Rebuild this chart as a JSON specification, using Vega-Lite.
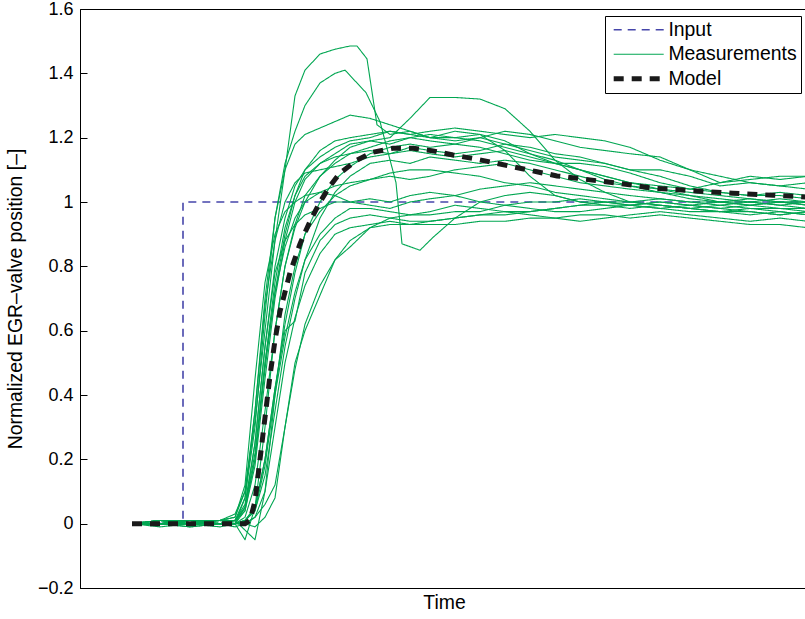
{
"$schema":"https://vega.github.io/schema/vega-lite/v6.json",
"autosize":"none",
"padding":{"left":80,"top":9,"right":0,"bottom":31},
"width":728,
"height":579,
"background":"white",
"config":{
 "view":{"stroke":"#000","strokeWidth":1},
 "axis":{"labelFont":"Liberation Sans","titleFont":"Liberation Sans","labelFontSize":18,"titleFontSize":19.4,"titleFontWeight":"normal","labelColor":"#000","titleColor":"#000","domainColor":"#000","tickColor":"#000","grid":false},
 "legend":{"title":null,"orient":"top-right","offset":7,"strokeColor":"#000","fillColor":"#fff","padding":4,"labelFont":"Liberation Sans","labelFontSize":19.4,"labelColor":"#000","symbolType":"M-1,0H9","symbolSize":100,"symbolFillColor":"transparent","labelOffset":40,"rowPadding":3.5}
},
"datasets":{
"input":[{"k":"Input","o":1,"t":52,"y":0},{"k":"Input","o":2,"t":103,"y":0},{"k":"Input","o":3,"t":103,"y":1},{"k":"Input","o":4,"t":728,"y":1}],
"model":[{"k":"Model","t":52,"y":0},{"k":"Model","t":80,"y":0},{"k":"Model","t":110,"y":0},{"k":"Model","t":140,"y":0},{"k":"Model","t":165,"y":0},{"k":"Model","t":170,"y":0.01},{"k":"Model","t":175,"y":0.07},{"k":"Model","t":180,"y":0.2},{"k":"Model","t":185,"y":0.33},{"k":"Model","t":190,"y":0.46},{"k":"Model","t":195,"y":0.57},{"k":"Model","t":200,"y":0.66},{"k":"Model","t":210,"y":0.78},{"k":"Model","t":220,"y":0.87},{"k":"Model","t":230,"y":0.94},{"k":"Model","t":240,"y":1.0},{"k":"Model","t":250,"y":1.05},{"k":"Model","t":260,"y":1.09},{"k":"Model","t":277,"y":1.13},{"k":"Model","t":293,"y":1.155},{"k":"Model","t":313,"y":1.167},{"k":"Model","t":333,"y":1.167},{"k":"Model","t":353,"y":1.159},{"k":"Model","t":373,"y":1.146},{"k":"Model","t":397,"y":1.133},{"k":"Model","t":420,"y":1.118},{"k":"Model","t":440,"y":1.105},{"k":"Model","t":457,"y":1.094},{"k":"Model","t":477,"y":1.081},{"k":"Model","t":497,"y":1.074},{"k":"Model","t":517,"y":1.066},{"k":"Model","t":537,"y":1.059},{"k":"Model","t":573,"y":1.043},{"k":"Model","t":613,"y":1.035},{"k":"Model","t":653,"y":1.027},{"k":"Model","t":693,"y":1.021},{"k":"Model","t":728,"y":1.015}],
"meas":[
{"k":"Measurements","s":1,"t":52,"y":0},{"k":"Measurements","s":1,"t":80,"y":0.01},{"k":"Measurements","s":1,"t":110,"y":0},{"k":"Measurements","s":1,"t":140,"y":0.01},{"k":"Measurements","s":1,"t":155,"y":0.02},{"k":"Measurements","s":1,"t":165,"y":0.1},{"k":"Measurements","s":1,"t":175,"y":0.32},{"k":"Measurements","s":1,"t":185,"y":0.6},{"k":"Measurements","s":1,"t":195,"y":0.88},{"k":"Measurements","s":1,"t":205,"y":1.1},{"k":"Measurements","s":1,"t":215,"y":1.33},{"k":"Measurements","s":1,"t":225,"y":1.41},{"k":"Measurements","s":1,"t":240,"y":1.46},{"k":"Measurements","s":1,"t":255,"y":1.475},{"k":"Measurements","s":1,"t":270,"y":1.485},{"k":"Measurements","s":1,"t":277,"y":1.485},{"k":"Measurements","s":1,"t":287,"y":1.445},{"k":"Measurements","s":1,"t":297,"y":1.24},{"k":"Measurements","s":1,"t":310,"y":1.21},{"k":"Measurements","s":1,"t":330,"y":1.22},{"k":"Measurements","s":1,"t":350,"y":1.2},{"k":"Measurements","s":1,"t":375,"y":1.22},{"k":"Measurements","s":1,"t":400,"y":1.21},{"k":"Measurements","s":1,"t":425,"y":1.19},{"k":"Measurements","s":1,"t":450,"y":1.15},{"k":"Measurements","s":1,"t":475,"y":1.12},{"k":"Measurements","s":1,"t":500,"y":1.1},{"k":"Measurements","s":1,"t":525,"y":1.08},{"k":"Measurements","s":1,"t":550,"y":1.06},{"k":"Measurements","s":1,"t":580,"y":1.04},{"k":"Measurements","s":1,"t":610,"y":1.02},{"k":"Measurements","s":1,"t":640,"y":1.0},{"k":"Measurements","s":1,"t":670,"y":0.99},{"k":"Measurements","s":1,"t":700,"y":1.0},{"k":"Measurements","s":1,"t":728,"y":0.99},
{"k":"Measurements","s":2,"t":52,"y":0},{"k":"Measurements","s":2,"t":80,"y":0},{"k":"Measurements","s":2,"t":110,"y":0.01},{"k":"Measurements","s":2,"t":140,"y":0},{"k":"Measurements","s":2,"t":155,"y":0.01},{"k":"Measurements","s":2,"t":165,"y":0.08},{"k":"Measurements","s":2,"t":175,"y":0.3},{"k":"Measurements","s":2,"t":185,"y":0.65},{"k":"Measurements","s":2,"t":195,"y":0.95},{"k":"Measurements","s":2,"t":205,"y":1.12},{"k":"Measurements","s":2,"t":215,"y":1.22},{"k":"Measurements","s":2,"t":225,"y":1.3},{"k":"Measurements","s":2,"t":240,"y":1.37},{"k":"Measurements","s":2,"t":255,"y":1.4},{"k":"Measurements","s":2,"t":265,"y":1.41},{"k":"Measurements","s":2,"t":286,"y":1.34},{"k":"Measurements","s":2,"t":300,"y":1.25},{"k":"Measurements","s":2,"t":316,"y":1.06},{"k":"Measurements","s":2,"t":322,"y":0.87},{"k":"Measurements","s":2,"t":340,"y":0.85},{"k":"Measurements","s":2,"t":353,"y":0.89},{"k":"Measurements","s":2,"t":375,"y":0.95},{"k":"Measurements","s":2,"t":400,"y":1.0},{"k":"Measurements","s":2,"t":425,"y":1.02},{"k":"Measurements","s":2,"t":450,"y":1.03},{"k":"Measurements","s":2,"t":475,"y":1.02},{"k":"Measurements","s":2,"t":500,"y":1.0},{"k":"Measurements","s":2,"t":525,"y":1.0},{"k":"Measurements","s":2,"t":550,"y":0.99},{"k":"Measurements","s":2,"t":580,"y":0.98},{"k":"Measurements","s":2,"t":610,"y":0.97},{"k":"Measurements","s":2,"t":640,"y":0.97},{"k":"Measurements","s":2,"t":670,"y":0.96},{"k":"Measurements","s":2,"t":700,"y":0.97},{"k":"Measurements","s":2,"t":728,"y":0.96},
{"k":"Measurements","s":3,"t":52,"y":0},{"k":"Measurements","s":3,"t":80,"y":0},{"k":"Measurements","s":3,"t":110,"y":0.01},{"k":"Measurements","s":3,"t":140,"y":0.01},{"k":"Measurements","s":3,"t":155,"y":0.03},{"k":"Measurements","s":3,"t":165,"y":0.1},{"k":"Measurements","s":3,"t":175,"y":0.35},{"k":"Measurements","s":3,"t":185,"y":0.7},{"k":"Measurements","s":3,"t":195,"y":0.95},{"k":"Measurements","s":3,"t":205,"y":1.1},{"k":"Measurements","s":3,"t":215,"y":1.18},{"k":"Measurements","s":3,"t":225,"y":1.21},{"k":"Measurements","s":3,"t":240,"y":1.23},{"k":"Measurements","s":3,"t":255,"y":1.25},{"k":"Measurements","s":3,"t":270,"y":1.27},{"k":"Measurements","s":3,"t":290,"y":1.26},{"k":"Measurements","s":3,"t":310,"y":1.24},{"k":"Measurements","s":3,"t":330,"y":1.22},{"k":"Measurements","s":3,"t":350,"y":1.2},{"k":"Measurements","s":3,"t":375,"y":1.19},{"k":"Measurements","s":3,"t":400,"y":1.2},{"k":"Measurements","s":3,"t":425,"y":1.18},{"k":"Measurements","s":3,"t":450,"y":1.16},{"k":"Measurements","s":3,"t":475,"y":1.14},{"k":"Measurements","s":3,"t":500,"y":1.13},{"k":"Measurements","s":3,"t":525,"y":1.12},{"k":"Measurements","s":3,"t":550,"y":1.1},{"k":"Measurements","s":3,"t":580,"y":1.08},{"k":"Measurements","s":3,"t":610,"y":1.05},{"k":"Measurements","s":3,"t":640,"y":1.03},{"k":"Measurements","s":3,"t":670,"y":1.02},{"k":"Measurements","s":3,"t":700,"y":1.02},{"k":"Measurements","s":3,"t":728,"y":1.01},
{"k":"Measurements","s":4,"t":52,"y":0},{"k":"Measurements","s":4,"t":80,"y":0.01},{"k":"Measurements","s":4,"t":110,"y":0},{"k":"Measurements","s":4,"t":140,"y":0},{"k":"Measurements","s":4,"t":155,"y":0},{"k":"Measurements","s":4,"t":165,"y":0.02},{"k":"Measurements","s":4,"t":175,"y":0.12},{"k":"Measurements","s":4,"t":185,"y":0.35},{"k":"Measurements","s":4,"t":195,"y":0.6},{"k":"Measurements","s":4,"t":205,"y":0.8},{"k":"Measurements","s":4,"t":215,"y":0.92},{"k":"Measurements","s":4,"t":225,"y":1.0},{"k":"Measurements","s":4,"t":240,"y":1.08},{"k":"Measurements","s":4,"t":255,"y":1.13},{"k":"Measurements","s":4,"t":270,"y":1.17},{"k":"Measurements","s":4,"t":290,"y":1.19},{"k":"Measurements","s":4,"t":310,"y":1.2},{"k":"Measurements","s":4,"t":330,"y":1.26},{"k":"Measurements","s":4,"t":350,"y":1.325},{"k":"Measurements","s":4,"t":375,"y":1.325},{"k":"Measurements","s":4,"t":400,"y":1.32},{"k":"Measurements","s":4,"t":425,"y":1.29},{"k":"Measurements","s":4,"t":450,"y":1.22},{"k":"Measurements","s":4,"t":475,"y":1.13},{"k":"Measurements","s":4,"t":500,"y":1.07},{"k":"Measurements","s":4,"t":525,"y":1.03},{"k":"Measurements","s":4,"t":550,"y":1.0},{"k":"Measurements","s":4,"t":580,"y":0.99},{"k":"Measurements","s":4,"t":610,"y":0.98},{"k":"Measurements","s":4,"t":640,"y":0.97},{"k":"Measurements","s":4,"t":670,"y":0.97},{"k":"Measurements","s":4,"t":700,"y":0.96},{"k":"Measurements","s":4,"t":728,"y":0.97},
{"k":"Measurements","s":5,"t":52,"y":0},{"k":"Measurements","s":5,"t":80,"y":0},{"k":"Measurements","s":5,"t":110,"y":-0.01},{"k":"Measurements","s":5,"t":140,"y":0},{"k":"Measurements","s":5,"t":155,"y":0},{"k":"Measurements","s":5,"t":165,"y":0},{"k":"Measurements","s":5,"t":175,"y":0.02},{"k":"Measurements","s":5,"t":185,"y":0.06},{"k":"Measurements","s":5,"t":195,"y":0.12},{"k":"Measurements","s":5,"t":205,"y":0.3},{"k":"Measurements","s":5,"t":215,"y":0.48},{"k":"Measurements","s":5,"t":225,"y":0.62},{"k":"Measurements","s":5,"t":240,"y":0.74},{"k":"Measurements","s":5,"t":255,"y":0.82},{"k":"Measurements","s":5,"t":270,"y":0.86},{"k":"Measurements","s":5,"t":290,"y":0.92},{"k":"Measurements","s":5,"t":310,"y":0.95},{"k":"Measurements","s":5,"t":330,"y":0.96},{"k":"Measurements","s":5,"t":350,"y":0.96},{"k":"Measurements","s":5,"t":375,"y":0.97},{"k":"Measurements","s":5,"t":400,"y":0.97},{"k":"Measurements","s":5,"t":425,"y":0.99},{"k":"Measurements","s":5,"t":450,"y":1.0},{"k":"Measurements","s":5,"t":475,"y":1.0},{"k":"Measurements","s":5,"t":500,"y":1.01},{"k":"Measurements","s":5,"t":525,"y":1.0},{"k":"Measurements","s":5,"t":550,"y":0.99},{"k":"Measurements","s":5,"t":580,"y":1.0},{"k":"Measurements","s":5,"t":610,"y":0.99},{"k":"Measurements","s":5,"t":640,"y":0.98},{"k":"Measurements","s":5,"t":670,"y":0.99},{"k":"Measurements","s":5,"t":700,"y":0.98},{"k":"Measurements","s":5,"t":728,"y":0.98},
{"k":"Measurements","s":6,"t":52,"y":0},{"k":"Measurements","s":6,"t":80,"y":0},{"k":"Measurements","s":6,"t":110,"y":0},{"k":"Measurements","s":6,"t":140,"y":-0.01},{"k":"Measurements","s":6,"t":155,"y":0},{"k":"Measurements","s":6,"t":165,"y":0},{"k":"Measurements","s":6,"t":175,"y":-0.01},{"k":"Measurements","s":6,"t":185,"y":0.02},{"k":"Measurements","s":6,"t":195,"y":0.08},{"k":"Measurements","s":6,"t":205,"y":0.3},{"k":"Measurements","s":6,"t":215,"y":0.5},{"k":"Measurements","s":6,"t":225,"y":0.6},{"k":"Measurements","s":6,"t":240,"y":0.71},{"k":"Measurements","s":6,"t":255,"y":0.82},{"k":"Measurements","s":6,"t":270,"y":0.88},{"k":"Measurements","s":6,"t":290,"y":0.92},{"k":"Measurements","s":6,"t":310,"y":0.93},{"k":"Measurements","s":6,"t":330,"y":0.93},{"k":"Measurements","s":6,"t":350,"y":0.94},{"k":"Measurements","s":6,"t":375,"y":0.95},{"k":"Measurements","s":6,"t":400,"y":0.96},{"k":"Measurements","s":6,"t":425,"y":0.96},{"k":"Measurements","s":6,"t":450,"y":0.97},{"k":"Measurements","s":6,"t":475,"y":0.98},{"k":"Measurements","s":6,"t":500,"y":0.99},{"k":"Measurements","s":6,"t":525,"y":1.0},{"k":"Measurements","s":6,"t":550,"y":1.0},{"k":"Measurements","s":6,"t":580,"y":1.01},{"k":"Measurements","s":6,"t":610,"y":1.0},{"k":"Measurements","s":6,"t":640,"y":1.0},{"k":"Measurements","s":6,"t":670,"y":0.99},{"k":"Measurements","s":6,"t":700,"y":1.0},{"k":"Measurements","s":6,"t":728,"y":0.99},
{"k":"Measurements","s":7,"t":52,"y":0},{"k":"Measurements","s":7,"t":80,"y":0.01},{"k":"Measurements","s":7,"t":110,"y":0.01},{"k":"Measurements","s":7,"t":140,"y":0},{"k":"Measurements","s":7,"t":155,"y":0.01},{"k":"Measurements","s":7,"t":165,"y":0.06},{"k":"Measurements","s":7,"t":175,"y":0.25},{"k":"Measurements","s":7,"t":185,"y":0.55},{"k":"Measurements","s":7,"t":195,"y":0.8},{"k":"Measurements","s":7,"t":205,"y":0.95},{"k":"Measurements","s":7,"t":215,"y":1.05},{"k":"Measurements","s":7,"t":225,"y":1.1},{"k":"Measurements","s":7,"t":240,"y":1.14},{"k":"Measurements","s":7,"t":255,"y":1.17},{"k":"Measurements","s":7,"t":270,"y":1.19},{"k":"Measurements","s":7,"t":290,"y":1.2},{"k":"Measurements","s":7,"t":310,"y":1.22},{"k":"Measurements","s":7,"t":330,"y":1.21},{"k":"Measurements","s":7,"t":350,"y":1.22},{"k":"Measurements","s":7,"t":375,"y":1.23},{"k":"Measurements","s":7,"t":400,"y":1.22},{"k":"Measurements","s":7,"t":425,"y":1.21},{"k":"Measurements","s":7,"t":450,"y":1.2},{"k":"Measurements","s":7,"t":475,"y":1.21},{"k":"Measurements","s":7,"t":500,"y":1.2},{"k":"Measurements","s":7,"t":525,"y":1.19},{"k":"Measurements","s":7,"t":550,"y":1.17},{"k":"Measurements","s":7,"t":580,"y":1.13},{"k":"Measurements","s":7,"t":610,"y":1.1},{"k":"Measurements","s":7,"t":640,"y":1.08},{"k":"Measurements","s":7,"t":670,"y":1.06},{"k":"Measurements","s":7,"t":700,"y":1.05},{"k":"Measurements","s":7,"t":728,"y":1.04},
{"k":"Measurements","s":8,"t":52,"y":0},{"k":"Measurements","s":8,"t":80,"y":0},{"k":"Measurements","s":8,"t":110,"y":0},{"k":"Measurements","s":8,"t":140,"y":0.01},{"k":"Measurements","s":8,"t":155,"y":0.01},{"k":"Measurements","s":8,"t":165,"y":0.04},{"k":"Measurements","s":8,"t":175,"y":0.18},{"k":"Measurements","s":8,"t":185,"y":0.45},{"k":"Measurements","s":8,"t":195,"y":0.7},{"k":"Measurements","s":8,"t":205,"y":0.88},{"k":"Measurements","s":8,"t":215,"y":1.0},{"k":"Measurements","s":8,"t":225,"y":1.07},{"k":"Measurements","s":8,"t":240,"y":1.12},{"k":"Measurements","s":8,"t":255,"y":1.15},{"k":"Measurements","s":8,"t":270,"y":1.18},{"k":"Measurements","s":8,"t":290,"y":1.19},{"k":"Measurements","s":8,"t":310,"y":1.18},{"k":"Measurements","s":8,"t":330,"y":1.2},{"k":"Measurements","s":8,"t":350,"y":1.19},{"k":"Measurements","s":8,"t":375,"y":1.18},{"k":"Measurements","s":8,"t":400,"y":1.2},{"k":"Measurements","s":8,"t":425,"y":1.22},{"k":"Measurements","s":8,"t":450,"y":1.21},{"k":"Measurements","s":8,"t":475,"y":1.19},{"k":"Measurements","s":8,"t":500,"y":1.17},{"k":"Measurements","s":8,"t":525,"y":1.16},{"k":"Measurements","s":8,"t":550,"y":1.15},{"k":"Measurements","s":8,"t":580,"y":1.14},{"k":"Measurements","s":8,"t":610,"y":1.1},{"k":"Measurements","s":8,"t":640,"y":1.06},{"k":"Measurements","s":8,"t":670,"y":1.07},{"k":"Measurements","s":8,"t":700,"y":1.08},{"k":"Measurements","s":8,"t":728,"y":1.08},
{"k":"Measurements","s":9,"t":52,"y":0},{"k":"Measurements","s":9,"t":80,"y":-0.01},{"k":"Measurements","s":9,"t":110,"y":0},{"k":"Measurements","s":9,"t":140,"y":0},{"k":"Measurements","s":9,"t":155,"y":0.01},{"k":"Measurements","s":9,"t":165,"y":0.05},{"k":"Measurements","s":9,"t":175,"y":0.2},{"k":"Measurements","s":9,"t":185,"y":0.5},{"k":"Measurements","s":9,"t":195,"y":0.75},{"k":"Measurements","s":9,"t":205,"y":0.92},{"k":"Measurements","s":9,"t":215,"y":1.02},{"k":"Measurements","s":9,"t":225,"y":1.08},{"k":"Measurements","s":9,"t":240,"y":1.12},{"k":"Measurements","s":9,"t":255,"y":1.14},{"k":"Measurements","s":9,"t":270,"y":1.15},{"k":"Measurements","s":9,"t":290,"y":1.17},{"k":"Measurements","s":9,"t":310,"y":1.19},{"k":"Measurements","s":9,"t":330,"y":1.2},{"k":"Measurements","s":9,"t":350,"y":1.21},{"k":"Measurements","s":9,"t":375,"y":1.2},{"k":"Measurements","s":9,"t":400,"y":1.19},{"k":"Measurements","s":9,"t":425,"y":1.17},{"k":"Measurements","s":9,"t":450,"y":1.15},{"k":"Measurements","s":9,"t":475,"y":1.13},{"k":"Measurements","s":9,"t":500,"y":1.1},{"k":"Measurements","s":9,"t":525,"y":1.07},{"k":"Measurements","s":9,"t":550,"y":1.05},{"k":"Measurements","s":9,"t":580,"y":1.03},{"k":"Measurements","s":9,"t":610,"y":1.01},{"k":"Measurements","s":9,"t":640,"y":1.0},{"k":"Measurements","s":9,"t":670,"y":1.0},{"k":"Measurements","s":9,"t":700,"y":0.99},{"k":"Measurements","s":9,"t":728,"y":1.0},
{"k":"Measurements","s":10,"t":52,"y":0},{"k":"Measurements","s":10,"t":80,"y":0},{"k":"Measurements","s":10,"t":110,"y":0.01},{"k":"Measurements","s":10,"t":140,"y":0},{"k":"Measurements","s":10,"t":155,"y":0},{"k":"Measurements","s":10,"t":165,"y":0.01},{"k":"Measurements","s":10,"t":175,"y":0.05},{"k":"Measurements","s":10,"t":185,"y":0.2},{"k":"Measurements","s":10,"t":195,"y":0.42},{"k":"Measurements","s":10,"t":205,"y":0.62},{"k":"Measurements","s":10,"t":215,"y":0.78},{"k":"Measurements","s":10,"t":225,"y":0.9},{"k":"Measurements","s":10,"t":240,"y":1.0},{"k":"Measurements","s":10,"t":255,"y":1.07},{"k":"Measurements","s":10,"t":270,"y":1.11},{"k":"Measurements","s":10,"t":290,"y":1.15},{"k":"Measurements","s":10,"t":310,"y":1.17},{"k":"Measurements","s":10,"t":330,"y":1.18},{"k":"Measurements","s":10,"t":350,"y":1.17},{"k":"Measurements","s":10,"t":375,"y":1.18},{"k":"Measurements","s":10,"t":400,"y":1.17},{"k":"Measurements","s":10,"t":425,"y":1.15},{"k":"Measurements","s":10,"t":450,"y":1.13},{"k":"Measurements","s":10,"t":475,"y":1.12},{"k":"Measurements","s":10,"t":500,"y":1.12},{"k":"Measurements","s":10,"t":525,"y":1.11},{"k":"Measurements","s":10,"t":550,"y":1.09},{"k":"Measurements","s":10,"t":580,"y":1.06},{"k":"Measurements","s":10,"t":610,"y":1.04},{"k":"Measurements","s":10,"t":640,"y":1.03},{"k":"Measurements","s":10,"t":670,"y":1.02},{"k":"Measurements","s":10,"t":700,"y":1.03},{"k":"Measurements","s":10,"t":728,"y":1.02},
{"k":"Measurements","s":11,"t":52,"y":0},{"k":"Measurements","s":11,"t":80,"y":0},{"k":"Measurements","s":11,"t":110,"y":0},{"k":"Measurements","s":11,"t":140,"y":0},{"k":"Measurements","s":11,"t":155,"y":0},{"k":"Measurements","s":11,"t":165,"y":0.01},{"k":"Measurements","s":11,"t":175,"y":0.04},{"k":"Measurements","s":11,"t":185,"y":0.15},{"k":"Measurements","s":11,"t":195,"y":0.35},{"k":"Measurements","s":11,"t":205,"y":0.55},{"k":"Measurements","s":11,"t":215,"y":0.7},{"k":"Measurements","s":11,"t":225,"y":0.82},{"k":"Measurements","s":11,"t":240,"y":0.95},{"k":"Measurements","s":11,"t":255,"y":1.03},{"k":"Measurements","s":11,"t":270,"y":1.08},{"k":"Measurements","s":11,"t":290,"y":1.12},{"k":"Measurements","s":11,"t":310,"y":1.13},{"k":"Measurements","s":11,"t":330,"y":1.12},{"k":"Measurements","s":11,"t":350,"y":1.14},{"k":"Measurements","s":11,"t":375,"y":1.13},{"k":"Measurements","s":11,"t":400,"y":1.12},{"k":"Measurements","s":11,"t":425,"y":1.13},{"k":"Measurements","s":11,"t":450,"y":1.12},{"k":"Measurements","s":11,"t":475,"y":1.1},{"k":"Measurements","s":11,"t":500,"y":1.08},{"k":"Measurements","s":11,"t":525,"y":1.06},{"k":"Measurements","s":11,"t":550,"y":1.05},{"k":"Measurements","s":11,"t":580,"y":1.04},{"k":"Measurements","s":11,"t":610,"y":1.03},{"k":"Measurements","s":11,"t":640,"y":1.02},{"k":"Measurements","s":11,"t":670,"y":1.01},{"k":"Measurements","s":11,"t":700,"y":1.0},{"k":"Measurements","s":11,"t":728,"y":1.0},
{"k":"Measurements","s":12,"t":52,"y":0},{"k":"Measurements","s":12,"t":80,"y":0.01},{"k":"Measurements","s":12,"t":110,"y":0},{"k":"Measurements","s":12,"t":140,"y":0},{"k":"Measurements","s":12,"t":155,"y":0},{"k":"Measurements","s":12,"t":165,"y":0.05},{"k":"Measurements","s":12,"t":175,"y":0.22},{"k":"Measurements","s":12,"t":185,"y":0.5},{"k":"Measurements","s":12,"t":195,"y":0.72},{"k":"Measurements","s":12,"t":205,"y":0.86},{"k":"Measurements","s":12,"t":215,"y":0.95},{"k":"Measurements","s":12,"t":225,"y":1.0},{"k":"Measurements","s":12,"t":240,"y":1.03},{"k":"Measurements","s":12,"t":255,"y":1.05},{"k":"Measurements","s":12,"t":270,"y":1.06},{"k":"Measurements","s":12,"t":290,"y":1.07},{"k":"Measurements","s":12,"t":310,"y":1.08},{"k":"Measurements","s":12,"t":330,"y":1.07},{"k":"Measurements","s":12,"t":350,"y":1.08},{"k":"Measurements","s":12,"t":375,"y":1.1},{"k":"Measurements","s":12,"t":400,"y":1.11},{"k":"Measurements","s":12,"t":425,"y":1.12},{"k":"Measurements","s":12,"t":450,"y":1.1},{"k":"Measurements","s":12,"t":475,"y":1.08},{"k":"Measurements","s":12,"t":500,"y":1.06},{"k":"Measurements","s":12,"t":525,"y":1.05},{"k":"Measurements","s":12,"t":550,"y":1.04},{"k":"Measurements","s":12,"t":580,"y":1.03},{"k":"Measurements","s":12,"t":610,"y":1.02},{"k":"Measurements","s":12,"t":640,"y":1.01},{"k":"Measurements","s":12,"t":670,"y":1.0},{"k":"Measurements","s":12,"t":700,"y":1.01},{"k":"Measurements","s":12,"t":728,"y":1.0},
{"k":"Measurements","s":13,"t":52,"y":0},{"k":"Measurements","s":13,"t":80,"y":0},{"k":"Measurements","s":13,"t":110,"y":0.01},{"k":"Measurements","s":13,"t":140,"y":0.01},{"k":"Measurements","s":13,"t":155,"y":0},{"k":"Measurements","s":13,"t":165,"y":0.01},{"k":"Measurements","s":13,"t":175,"y":0.05},{"k":"Measurements","s":13,"t":185,"y":0.2},{"k":"Measurements","s":13,"t":195,"y":0.42},{"k":"Measurements","s":13,"t":205,"y":0.6},{"k":"Measurements","s":13,"t":215,"y":0.63},{"k":"Measurements","s":13,"t":225,"y":0.78},{"k":"Measurements","s":13,"t":240,"y":0.88},{"k":"Measurements","s":13,"t":255,"y":0.93},{"k":"Measurements","s":13,"t":270,"y":0.95},{"k":"Measurements","s":13,"t":290,"y":0.96},{"k":"Measurements","s":13,"t":310,"y":0.95},{"k":"Measurements","s":13,"t":330,"y":0.94},{"k":"Measurements","s":13,"t":350,"y":0.94},{"k":"Measurements","s":13,"t":375,"y":0.95},{"k":"Measurements","s":13,"t":400,"y":0.96},{"k":"Measurements","s":13,"t":425,"y":0.97},{"k":"Measurements","s":13,"t":450,"y":0.97},{"k":"Measurements","s":13,"t":475,"y":0.98},{"k":"Measurements","s":13,"t":500,"y":0.99},{"k":"Measurements","s":13,"t":525,"y":0.99},{"k":"Measurements","s":13,"t":550,"y":0.98},{"k":"Measurements","s":13,"t":580,"y":0.99},{"k":"Measurements","s":13,"t":610,"y":0.98},{"k":"Measurements","s":13,"t":640,"y":0.97},{"k":"Measurements","s":13,"t":670,"y":0.98},{"k":"Measurements","s":13,"t":700,"y":0.97},{"k":"Measurements","s":13,"t":728,"y":0.96},
{"k":"Measurements","s":14,"t":52,"y":0},{"k":"Measurements","s":14,"t":80,"y":0},{"k":"Measurements","s":14,"t":110,"y":0},{"k":"Measurements","s":14,"t":140,"y":0},{"k":"Measurements","s":14,"t":155,"y":-0.01},{"k":"Measurements","s":14,"t":165,"y":0},{"k":"Measurements","s":14,"t":175,"y":0.02},{"k":"Measurements","s":14,"t":185,"y":0.1},{"k":"Measurements","s":14,"t":195,"y":0.3},{"k":"Measurements","s":14,"t":205,"y":0.5},{"k":"Measurements","s":14,"t":215,"y":0.64},{"k":"Measurements","s":14,"t":225,"y":0.74},{"k":"Measurements","s":14,"t":240,"y":0.84},{"k":"Measurements","s":14,"t":255,"y":0.9},{"k":"Measurements","s":14,"t":270,"y":0.92},{"k":"Measurements","s":14,"t":290,"y":0.93},{"k":"Measurements","s":14,"t":310,"y":0.94},{"k":"Measurements","s":14,"t":330,"y":0.93},{"k":"Measurements","s":14,"t":350,"y":0.93},{"k":"Measurements","s":14,"t":375,"y":0.93},{"k":"Measurements","s":14,"t":400,"y":0.94},{"k":"Measurements","s":14,"t":425,"y":0.94},{"k":"Measurements","s":14,"t":450,"y":0.95},{"k":"Measurements","s":14,"t":475,"y":0.95},{"k":"Measurements","s":14,"t":500,"y":0.96},{"k":"Measurements","s":14,"t":525,"y":0.96},{"k":"Measurements","s":14,"t":550,"y":0.95},{"k":"Measurements","s":14,"t":580,"y":0.96},{"k":"Measurements","s":14,"t":610,"y":0.95},{"k":"Measurements","s":14,"t":640,"y":0.94},{"k":"Measurements","s":14,"t":670,"y":0.93},{"k":"Measurements","s":14,"t":700,"y":0.93},{"k":"Measurements","s":14,"t":728,"y":0.92},
{"k":"Measurements","s":15,"t":52,"y":0},{"k":"Measurements","s":15,"t":80,"y":0.01},{"k":"Measurements","s":15,"t":110,"y":0},{"k":"Measurements","s":15,"t":140,"y":0.01},{"k":"Measurements","s":15,"t":155,"y":0.02},{"k":"Measurements","s":15,"t":165,"y":0.12},{"k":"Measurements","s":15,"t":175,"y":0.45},{"k":"Measurements","s":15,"t":185,"y":0.75},{"k":"Measurements","s":15,"t":195,"y":0.9},{"k":"Measurements","s":15,"t":205,"y":0.97},{"k":"Measurements","s":15,"t":215,"y":1.0},{"k":"Measurements","s":15,"t":225,"y":1.02},{"k":"Measurements","s":15,"t":240,"y":1.03},{"k":"Measurements","s":15,"t":255,"y":1.02},{"k":"Measurements","s":15,"t":270,"y":1.0},{"k":"Measurements","s":15,"t":290,"y":0.99},{"k":"Measurements","s":15,"t":310,"y":0.98},{"k":"Measurements","s":15,"t":330,"y":1.0},{"k":"Measurements","s":15,"t":350,"y":1.01},{"k":"Measurements","s":15,"t":375,"y":1.02},{"k":"Measurements","s":15,"t":400,"y":1.0},{"k":"Measurements","s":15,"t":425,"y":0.99},{"k":"Measurements","s":15,"t":450,"y":0.98},{"k":"Measurements","s":15,"t":475,"y":0.97},{"k":"Measurements","s":15,"t":500,"y":0.97},{"k":"Measurements","s":15,"t":525,"y":0.98},{"k":"Measurements","s":15,"t":550,"y":0.99},{"k":"Measurements","s":15,"t":580,"y":0.98},{"k":"Measurements","s":15,"t":610,"y":0.99},{"k":"Measurements","s":15,"t":640,"y":0.98},{"k":"Measurements","s":15,"t":670,"y":0.97},{"k":"Measurements","s":15,"t":700,"y":0.96},{"k":"Measurements","s":15,"t":728,"y":0.97},
{"k":"Measurements","s":16,"t":52,"y":0},{"k":"Measurements","s":16,"t":80,"y":0},{"k":"Measurements","s":16,"t":110,"y":-0.01},{"k":"Measurements","s":16,"t":140,"y":0},{"k":"Measurements","s":16,"t":155,"y":0},{"k":"Measurements","s":16,"t":165,"y":-0.05},{"k":"Measurements","s":16,"t":175,"y":0.05},{"k":"Measurements","s":16,"t":185,"y":0.3},{"k":"Measurements","s":16,"t":195,"y":0.6},{"k":"Measurements","s":16,"t":205,"y":0.8},{"k":"Measurements","s":16,"t":215,"y":0.93},{"k":"Measurements","s":16,"t":225,"y":1.02},{"k":"Measurements","s":16,"t":240,"y":1.08},{"k":"Measurements","s":16,"t":255,"y":1.12},{"k":"Measurements","s":16,"t":270,"y":1.15},{"k":"Measurements","s":16,"t":290,"y":1.16},{"k":"Measurements","s":16,"t":310,"y":1.15},{"k":"Measurements","s":16,"t":330,"y":1.17},{"k":"Measurements","s":16,"t":350,"y":1.16},{"k":"Measurements","s":16,"t":375,"y":1.15},{"k":"Measurements","s":16,"t":400,"y":1.16},{"k":"Measurements","s":16,"t":425,"y":1.18},{"k":"Measurements","s":16,"t":450,"y":1.17},{"k":"Measurements","s":16,"t":475,"y":1.15},{"k":"Measurements","s":16,"t":500,"y":1.14},{"k":"Measurements","s":16,"t":525,"y":1.12},{"k":"Measurements","s":16,"t":550,"y":1.1},{"k":"Measurements","s":16,"t":580,"y":1.1},{"k":"Measurements","s":16,"t":610,"y":1.08},{"k":"Measurements","s":16,"t":640,"y":1.05},{"k":"Measurements","s":16,"t":670,"y":1.06},{"k":"Measurements","s":16,"t":700,"y":1.05},{"k":"Measurements","s":16,"t":728,"y":1.06},
{"k":"Measurements","s":17,"t":52,"y":0},{"k":"Measurements","s":17,"t":80,"y":0},{"k":"Measurements","s":17,"t":110,"y":0.01},{"k":"Measurements","s":17,"t":140,"y":0},{"k":"Measurements","s":17,"t":155,"y":0.01},{"k":"Measurements","s":17,"t":165,"y":-0.02},{"k":"Measurements","s":17,"t":175,"y":-0.05},{"k":"Measurements","s":17,"t":185,"y":0.1},{"k":"Measurements","s":17,"t":195,"y":0.4},{"k":"Measurements","s":17,"t":205,"y":0.65},{"k":"Measurements","s":17,"t":215,"y":0.8},{"k":"Measurements","s":17,"t":225,"y":0.9},{"k":"Measurements","s":17,"t":240,"y":0.97},{"k":"Measurements","s":17,"t":255,"y":1.02},{"k":"Measurements","s":17,"t":270,"y":1.05},{"k":"Measurements","s":17,"t":290,"y":1.07},{"k":"Measurements","s":17,"t":310,"y":1.09},{"k":"Measurements","s":17,"t":330,"y":1.1},{"k":"Measurements","s":17,"t":350,"y":1.1},{"k":"Measurements","s":17,"t":375,"y":1.09},{"k":"Measurements","s":17,"t":400,"y":1.08},{"k":"Measurements","s":17,"t":425,"y":1.06},{"k":"Measurements","s":17,"t":450,"y":1.05},{"k":"Measurements","s":17,"t":475,"y":1.03},{"k":"Measurements","s":17,"t":500,"y":1.02},{"k":"Measurements","s":17,"t":525,"y":1.01},{"k":"Measurements","s":17,"t":550,"y":1.0},{"k":"Measurements","s":17,"t":580,"y":0.99},{"k":"Measurements","s":17,"t":610,"y":0.98},{"k":"Measurements","s":17,"t":640,"y":0.99},{"k":"Measurements","s":17,"t":670,"y":0.98},{"k":"Measurements","s":17,"t":700,"y":0.98},{"k":"Measurements","s":17,"t":728,"y":0.97},
{"k":"Measurements","s":18,"t":52,"y":0},{"k":"Measurements","s":18,"t":80,"y":0},{"k":"Measurements","s":18,"t":110,"y":0},{"k":"Measurements","s":18,"t":140,"y":0},{"k":"Measurements","s":18,"t":155,"y":0.01},{"k":"Measurements","s":18,"t":165,"y":0.05},{"k":"Measurements","s":18,"t":175,"y":0.25},{"k":"Measurements","s":18,"t":185,"y":0.55},{"k":"Measurements","s":18,"t":195,"y":0.78},{"k":"Measurements","s":18,"t":205,"y":0.88},{"k":"Measurements","s":18,"t":215,"y":0.93},{"k":"Measurements","s":18,"t":225,"y":0.96},{"k":"Measurements","s":18,"t":240,"y":0.98},{"k":"Measurements","s":18,"t":255,"y":1.0},{"k":"Measurements","s":18,"t":270,"y":1.0},{"k":"Measurements","s":18,"t":290,"y":1.01},{"k":"Measurements","s":18,"t":310,"y":1.0},{"k":"Measurements","s":18,"t":330,"y":1.02},{"k":"Measurements","s":18,"t":350,"y":1.03},{"k":"Measurements","s":18,"t":375,"y":1.02},{"k":"Measurements","s":18,"t":400,"y":1.04},{"k":"Measurements","s":18,"t":425,"y":1.05},{"k":"Measurements","s":18,"t":450,"y":1.06},{"k":"Measurements","s":18,"t":475,"y":1.05},{"k":"Measurements","s":18,"t":500,"y":1.04},{"k":"Measurements","s":18,"t":525,"y":1.03},{"k":"Measurements","s":18,"t":550,"y":1.02},{"k":"Measurements","s":18,"t":580,"y":1.01},{"k":"Measurements","s":18,"t":610,"y":1.0},{"k":"Measurements","s":18,"t":640,"y":0.99},{"k":"Measurements","s":18,"t":670,"y":1.0},{"k":"Measurements","s":18,"t":700,"y":0.99},{"k":"Measurements","s":18,"t":728,"y":0.98},
{"k":"Measurements","s":19,"t":52,"y":0},{"k":"Measurements","s":19,"t":80,"y":0.01},{"k":"Measurements","s":19,"t":110,"y":0},{"k":"Measurements","s":19,"t":140,"y":0},{"k":"Measurements","s":19,"t":155,"y":0},{"k":"Measurements","s":19,"t":165,"y":0.01},{"k":"Measurements","s":19,"t":175,"y":0.04},{"k":"Measurements","s":19,"t":185,"y":0.18},{"k":"Measurements","s":19,"t":195,"y":0.4},{"k":"Measurements","s":19,"t":205,"y":0.58},{"k":"Measurements","s":19,"t":215,"y":0.72},{"k":"Measurements","s":19,"t":225,"y":0.82},{"k":"Measurements","s":19,"t":240,"y":0.9},{"k":"Measurements","s":19,"t":255,"y":0.95},{"k":"Measurements","s":19,"t":270,"y":0.98},{"k":"Measurements","s":19,"t":290,"y":0.98},{"k":"Measurements","s":19,"t":310,"y":0.97},{"k":"Measurements","s":19,"t":330,"y":0.96},{"k":"Measurements","s":19,"t":350,"y":0.97},{"k":"Measurements","s":19,"t":375,"y":0.99},{"k":"Measurements","s":19,"t":400,"y":0.98},{"k":"Measurements","s":19,"t":425,"y":0.97},{"k":"Measurements","s":19,"t":450,"y":0.96},{"k":"Measurements","s":19,"t":475,"y":0.95},{"k":"Measurements","s":19,"t":500,"y":0.94},{"k":"Measurements","s":19,"t":525,"y":0.95},{"k":"Measurements","s":19,"t":550,"y":0.96},{"k":"Measurements","s":19,"t":580,"y":0.97},{"k":"Measurements","s":19,"t":610,"y":0.96},{"k":"Measurements","s":19,"t":640,"y":0.95},{"k":"Measurements","s":19,"t":670,"y":0.94},{"k":"Measurements","s":19,"t":700,"y":0.95},{"k":"Measurements","s":19,"t":728,"y":0.94},
{"k":"Measurements","s":20,"t":52,"y":0},{"k":"Measurements","s":20,"t":80,"y":0},{"k":"Measurements","s":20,"t":110,"y":0},{"k":"Measurements","s":20,"t":140,"y":0.01},{"k":"Measurements","s":20,"t":155,"y":0},{"k":"Measurements","s":20,"t":165,"y":0.04},{"k":"Measurements","s":20,"t":175,"y":0.2},{"k":"Measurements","s":20,"t":185,"y":0.48},{"k":"Measurements","s":20,"t":195,"y":0.72},{"k":"Measurements","s":20,"t":205,"y":0.9},{"k":"Measurements","s":20,"t":215,"y":1.02},{"k":"Measurements","s":20,"t":225,"y":1.1},{"k":"Measurements","s":20,"t":240,"y":1.16},{"k":"Measurements","s":20,"t":255,"y":1.19},{"k":"Measurements","s":20,"t":270,"y":1.2},{"k":"Measurements","s":20,"t":290,"y":1.21},{"k":"Measurements","s":20,"t":310,"y":1.22},{"k":"Measurements","s":20,"t":330,"y":1.21},{"k":"Measurements","s":20,"t":350,"y":1.2},{"k":"Measurements","s":20,"t":375,"y":1.2},{"k":"Measurements","s":20,"t":400,"y":1.21},{"k":"Measurements","s":20,"t":425,"y":1.16},{"k":"Measurements","s":20,"t":450,"y":1.08},{"k":"Measurements","s":20,"t":475,"y":1.02},{"k":"Measurements","s":20,"t":500,"y":1.0},{"k":"Measurements","s":20,"t":525,"y":0.99},{"k":"Measurements","s":20,"t":550,"y":0.99},{"k":"Measurements","s":20,"t":580,"y":1.0},{"k":"Measurements","s":20,"t":610,"y":0.99},{"k":"Measurements","s":20,"t":640,"y":1.0},{"k":"Measurements","s":20,"t":670,"y":1.01},{"k":"Measurements","s":20,"t":700,"y":1.0},{"k":"Measurements","s":20,"t":728,"y":1.0},
{"k":"Measurements","s":21,"t":52,"y":0},{"k":"Measurements","s":21,"t":80,"y":0},{"k":"Measurements","s":21,"t":110,"y":0.01},{"k":"Measurements","s":21,"t":140,"y":0},{"k":"Measurements","s":21,"t":155,"y":0},{"k":"Measurements","s":21,"t":165,"y":0.08},{"k":"Measurements","s":21,"t":175,"y":0.35},{"k":"Measurements","s":21,"t":185,"y":0.68},{"k":"Measurements","s":21,"t":195,"y":0.88},{"k":"Measurements","s":21,"t":205,"y":1.0},{"k":"Measurements","s":21,"t":215,"y":1.06},{"k":"Measurements","s":21,"t":225,"y":1.09},{"k":"Measurements","s":21,"t":240,"y":1.1},{"k":"Measurements","s":21,"t":255,"y":1.11},{"k":"Measurements","s":21,"t":270,"y":1.12},{"k":"Measurements","s":21,"t":290,"y":1.14},{"k":"Measurements","s":21,"t":310,"y":1.15},{"k":"Measurements","s":21,"t":330,"y":1.16},{"k":"Measurements","s":21,"t":350,"y":1.15},{"k":"Measurements","s":21,"t":375,"y":1.14},{"k":"Measurements","s":21,"t":400,"y":1.15},{"k":"Measurements","s":21,"t":425,"y":1.16},{"k":"Measurements","s":21,"t":450,"y":1.14},{"k":"Measurements","s":21,"t":475,"y":1.12},{"k":"Measurements","s":21,"t":500,"y":1.1},{"k":"Measurements","s":21,"t":525,"y":1.08},{"k":"Measurements","s":21,"t":550,"y":1.06},{"k":"Measurements","s":21,"t":580,"y":1.05},{"k":"Measurements","s":21,"t":610,"y":1.04},{"k":"Measurements","s":21,"t":640,"y":1.06},{"k":"Measurements","s":21,"t":670,"y":1.08},{"k":"Measurements","s":21,"t":700,"y":1.07},{"k":"Measurements","s":21,"t":728,"y":1.08}
]
},
"encoding":{
 "x":{"field":"t","type":"quantitative","title":"Time","scale":{"domain":[0,728],"nice":false,"zero":false},"axis":{"labels":false,"ticks":false,"titlePadding":5}},
 "y":{"field":"y","type":"quantitative","title":"Normalized EGR–valve position [–]","scale":{"domain":[-0.2,1.6],"nice":false,"zero":false},"axis":{"values":[-0.2,0,0.2,0.4,0.6,0.8,1,1.2,1.4,1.6],"format":"~g","tickSize":-7,"labelPadding":14,"titlePadding":12}},
 "color":{"field":"k","type":"nominal","scale":{"domain":["Input","Measurements","Model"],"range":["#4646aa","#00a651","#1a1a1a"]}},
 "strokeDash":{"field":"k","type":"nominal","scale":{"domain":["Input","Measurements","Model"],"range":[[8,6],[1,0],[10,8]]}},
 "strokeWidth":{"field":"k","type":"nominal","scale":{"type":"ordinal","domain":["Input","Measurements","Model"],"range":[1.6,1.1,5]}}
},
"layer":[
 {"data":{"name":"input"},"mark":{"type":"line","strokeCap":"butt"},"encoding":{"order":{"field":"o","type":"quantitative"}}},
 {"data":{"name":"meas"},"mark":{"type":"line","strokeCap":"butt","strokeJoin":"round"},"encoding":{"detail":{"field":"s","type":"nominal"}}},
 {"data":{"name":"model"},"mark":{"type":"line","strokeCap":"butt"}}
]
}
